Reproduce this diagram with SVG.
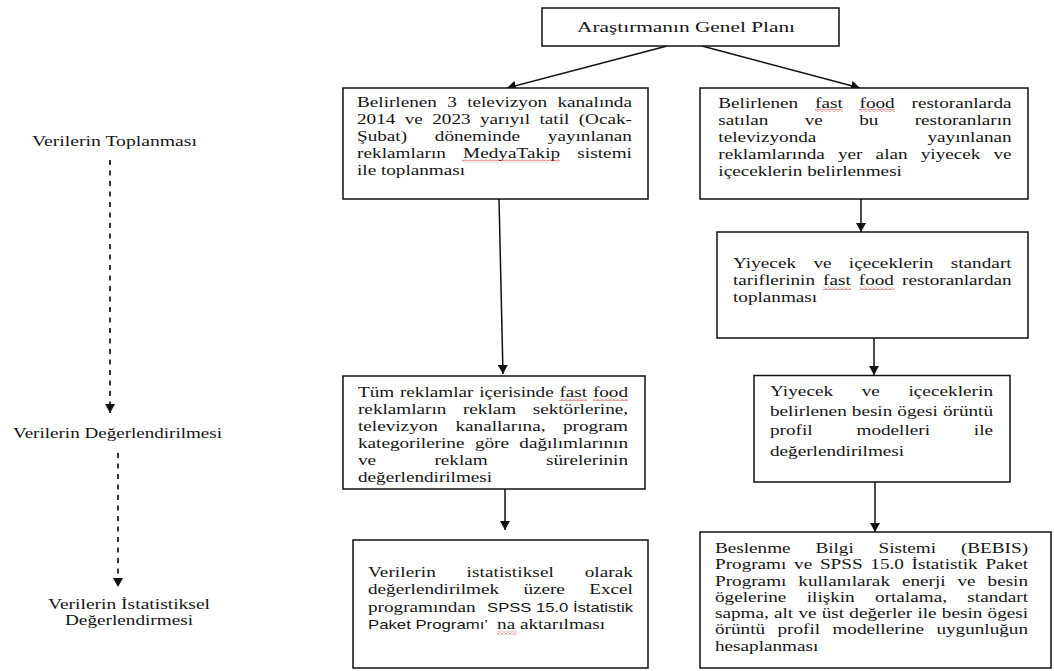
<svg xmlns="http://www.w3.org/2000/svg" width="1054" height="671" viewBox="0 0 1054 671">
<style>
.box{fill:#fff;stroke:#111;stroke-width:1.5}
.t{font-family:"Liberation Serif","Times New Roman",serif;font-size:14px;fill:#151515}
.s{font-family:"Liberation Sans",Arial,sans-serif;font-size:13px;fill:#151515}
.conn{stroke:#111;stroke-width:1.5;fill:none;marker-end:url(#arr)}
.dash{stroke:#333;stroke-width:2;fill:none;stroke-dasharray:5 5.5;marker-end:url(#arr)}
.sq{fill:url(#wave)}
</style>
<defs>
<marker id="arr" markerUnits="userSpaceOnUse" markerWidth="10" markerHeight="10" refX="9" refY="5" orient="auto">
<path d="M0,0 L9,5 L0,10 z" fill="#111"/>
</marker>
<pattern id="wave" width="4" height="3" patternUnits="userSpaceOnUse">
<path d="M0,2.5 L2,0.5 L4,2.5" fill="none" stroke="#d42a2a" stroke-width="0.9"/>
</pattern>
</defs>
<rect width="1054" height="671" fill="#fff"/>

<g id="connectors">
<line class="conn" x1="667" y1="46" x2="507" y2="88"/>
<line class="conn" x1="702" y1="46" x2="860" y2="88"/>
<line class="conn" x1="499" y1="199" x2="503" y2="374"/>
<line class="conn" x1="505" y1="489" x2="505" y2="530"/>
<line class="conn" x1="861" y1="199" x2="861" y2="232"/>
<line class="conn" x1="874" y1="338" x2="874" y2="375"/>
<line class="conn" x1="875" y1="482" x2="875" y2="532"/>
<line class="dash" x1="110" y1="160" x2="110" y2="413"/>
<line class="dash" x1="118" y1="453" x2="118" y2="587"/>
</g>

<g id="stages">
<text id="stage-collect" class="t" x="32" y="145.5" textLength="165" lengthAdjust="spacingAndGlyphs">Verilerin Toplanması</text>
<text id="stage-eval" class="t" x="13" y="437.5" textLength="209" lengthAdjust="spacingAndGlyphs">Verilerin Değerlendirilmesi</text>
<g id="stage-stat">
<text class="t" x="48" y="608.5" textLength="162" lengthAdjust="spacingAndGlyphs">Verilerin İstatistiksel</text>
<text class="t" x="65" y="625" textLength="128" lengthAdjust="spacingAndGlyphs">Değerlendirmesi</text>
</g>
</g>

<g id="n-plan">
<rect class="box" x="542" y="8" width="297" height="38"/>
<text class="t" x="577" y="32" style="font-size:15px" textLength="218" lengthAdjust="spacingAndGlyphs">Araştırmanın Genel Planı</text>
</g>

<g id="n-collect-ads">
<rect class="box" x="343" y="88" width="305" height="111"/>
<g transform="translate(357 0) scale(1.37 1)">
<text class="t" y="107.5" textLength="200.7" lengthAdjust="spacing" style="word-spacing:4.07px">Belirlenen 3 televizyon kanalında</text>
<text class="t" y="124.5" textLength="200.7" lengthAdjust="spacing" style="word-spacing:3.34px">2014 ve 2023 yarıyıl tatil (Ocak-</text>
<text class="t" y="141.5" textLength="200.7" lengthAdjust="spacing" style="word-spacing:16.75px">Şubat) döneminde yayınlanan</text>
<text class="t" y="158.5" textLength="200.7" lengthAdjust="spacing" style="word-spacing:8.95px">reklamların MedyaTakip sistemi</text>
<text class="t" y="175.5">ile toplanması</text>
</g>
<rect class="sq" x="462" y="159.5" width="98" height="3"/>
</g>

<g id="n-identify-foods">
<rect class="box" x="700" y="88" width="328" height="111"/>
<g transform="translate(718.3 0) scale(1.37 1)">
<text class="t" y="108" textLength="214.1" lengthAdjust="spacing" style="word-spacing:8.77px">Belirlenen fast food restoranlarda</text>
<text class="t" y="125" textLength="214.1" lengthAdjust="spacing" style="word-spacing:23.03px">satılan ve bu restoranların</text>
<text class="t" y="142" textLength="214.1" lengthAdjust="spacing" style="word-spacing:77.6px">televizyonda yayınlanan</text>
<text class="t" y="159" textLength="214.1" lengthAdjust="spacing" style="word-spacing:6.1px">reklamlarında yer alan yiyecek ve</text>
<text class="t" y="176">içeceklerin belirlenmesi</text>
</g>
<rect class="sq" x="815" y="109" width="28" height="3"/>
<rect class="sq" x="859" y="109" width="36" height="3"/>
</g>

<g id="n-recipes">
<rect class="box" x="717" y="232" width="311" height="106"/>
<g transform="translate(733 0) scale(1.37 1)">
<text class="t" y="268" textLength="203.4" lengthAdjust="spacing" style="word-spacing:9.1px">Yiyecek ve içeceklerin standart</text>
<text class="t" y="285" textLength="203.4" lengthAdjust="spacing" style="word-spacing:2.37px">tariflerinin fast food restoranlardan</text>
<text class="t" y="302">toplanması</text>
</g>
<rect class="sq" x="823" y="287" width="28" height="3"/>
<rect class="sq" x="859" y="287" width="35" height="3"/>
</g>

<g id="n-profile-eval">
<rect class="box" x="754" y="375.5" width="256" height="106.5"/>
<g transform="translate(770 0) scale(1.37 1)">
<text class="t" y="396.5" textLength="162.8" lengthAdjust="spacing" style="word-spacing:17.25px">Yiyecek ve içeceklerin</text>
<text class="t" y="416" textLength="162.8" lengthAdjust="spacing" style="word-spacing:0.2px">belirlenen besin ögesi örüntü</text>
<text class="t" y="435.5" textLength="162.8" lengthAdjust="spacing" style="word-spacing:28.5px">profil modelleri ile</text>
<text class="t" y="456">değerlendirilmesi</text>
</g>
</g>

<g id="n-bebis">
<rect class="box" x="700" y="532" width="351" height="136"/>
<g transform="translate(715 0) scale(1.37 1)">
<text class="t" y="553" textLength="228.5" lengthAdjust="spacing" style="word-spacing:14.6px">Beslenme Bilgi Sistemi (BEBIS)</text>
<text class="t" y="569.5" textLength="228.5" lengthAdjust="spacing" style="word-spacing:2.14px">Programı ve SPSS 15.0 İstatistik Paket</text>
<text class="t" y="586" textLength="228.5" lengthAdjust="spacing" style="word-spacing:5.2px">Programı kullanılarak enerji ve besin</text>
<text class="t" y="602" textLength="228.5" lengthAdjust="spacing" style="word-spacing:11.4px">ögelerine ilişkin ortalama, standart</text>
<text class="t" y="618.5" textLength="228.5" lengthAdjust="spacing" style="word-spacing:0.3px">sapma, alt ve üst değerler ile besin ögesi</text>
<text class="t" y="634.5" textLength="228.5" lengthAdjust="spacing" style="word-spacing:5.5px">örüntü profil modellerine uygunluğun</text>
<text class="t" y="651">hesaplanması</text>
</g>
</g>

<g id="n-eval-ads">
<rect class="box" x="343" y="376" width="302" height="113"/>
<g transform="translate(358 0) scale(1.37 1)">
<text class="t" y="397" textLength="197.1" lengthAdjust="spacing" style="word-spacing:0.7px">Tüm reklamlar içerisinde fast food</text>
<text class="t" y="414" textLength="197.1" lengthAdjust="spacing" style="word-spacing:8.55px">reklamların reklam sektörlerine,</text>
<text class="t" y="431" textLength="197.1" lengthAdjust="spacing" style="word-spacing:9.3px">televizyon kanallarına, program</text>
<text class="t" y="448" textLength="197.1" lengthAdjust="spacing" style="word-spacing:4.1px">kategorilerine göre dağılımlarının</text>
<text class="t" y="465" textLength="197.1" lengthAdjust="spacing" style="word-spacing:39.1px">ve reklam sürelerinin</text>
<text class="t" y="482">değerlendirilmesi</text>
</g>
<rect class="sq" x="559" y="398" width="28" height="3"/>
<rect class="sq" x="593" y="398" width="35" height="3"/>
</g>

<g id="n-transfer-spss">
<rect class="box" x="353" y="540" width="295" height="128"/>
<g transform="translate(368 0) scale(1.37 1)">
<text class="t" y="577" textLength="193.4" lengthAdjust="spacing" style="word-spacing:18.9px">Verilerin istatistiksel olarak</text>
<text class="t" y="594.5" textLength="193.4" lengthAdjust="spacing" style="word-spacing:14.3px">değerlendirilmek üzere Excel</text>
<text class="t" y="612">programından</text>
<text class="s" x="86.9" y="612" textLength="106.5" lengthAdjust="spacingAndGlyphs">SPSS 15.0 İstatistik</text>
<text class="s" x="0" y="629.5" textLength="87.6" lengthAdjust="spacingAndGlyphs">Paket Programı’</text>
<text class="t" x="94.2" y="629.5">na aktarılması</text>
</g>
<rect class="sq" x="497" y="631.5" width="20" height="3"/>
</g>
</svg>
